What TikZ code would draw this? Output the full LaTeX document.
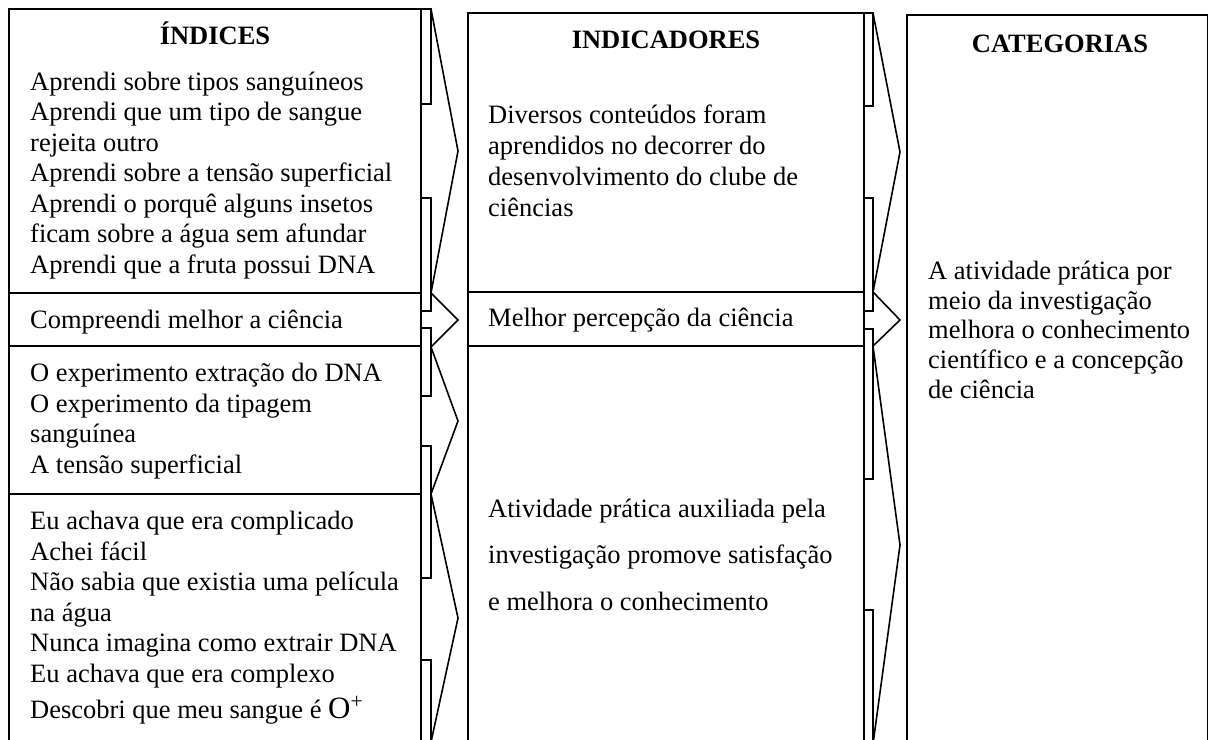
\documentclass[tikz,border=0pt]{standalone}
\usepackage{fontspec}
\setmainfont{Liberation Serif}

\begin{document}
\begin{tikzpicture}[x=1pt,y=-1pt]
            \tikzset{box/.style = {line width=1.9pt}}
            \tikzset{bar/.style = {line width=1.5pt, fill=white}}
            \tikzset{chev/.style = {line width=1.6pt, line join=miter}}
            \tikzset{txt/.style = {anchor=base west, inner sep=0pt, align=left, font=\fontsize{26.5}{30.5}\selectfont}}
            \tikzset{head/.style = {anchor=base, inner sep=0pt, font=\fontsize{26.5}{30.5}\selectfont\bfseries}}

            \useasboundingbox (0,0) rectangle (1209,739);
            \clip (0,0) rectangle (1209,739);

            % columns
            \draw[box] (9,760) -- (9,9) -- (421,9) -- (421,760);
            \foreach \y in {293,346,494} {\draw[box] (9,\y) -- (421,\y);}
            \draw[box] (468,760) -- (468,13) -- (864,13) -- (864,760);
            \foreach \y in {292,346} {\draw[box] (468,\y) -- (864,\y);}
            \draw[box] (907,760) -- (907,15) -- (1207.5,15) -- (1207.5,760);

            % arrows between columns
            \foreach \a/\b in {9/104,198/311,328/396,446/578,660/760} {\draw[bar] (421,\a) rectangle (431,\b);}
            \foreach \a/\t/\b in {9/151/293,293/320/347,347/421/494,494/618/742} {\draw[chev] (431,\a) -- (458,\t) -- (431,\b);}
            \foreach \a/\b in {13/106,198/311,329/479,610/760} {\draw[bar] (864,\a) rectangle (873,\b);}
            \foreach \a/\t/\b in {13/152/292,292/320/346,346/545/744} {\draw[chev] (873,\a) -- (900,\t) -- (873,\b);}

            % headings
            \node[head] (indices) at (215,44) {ÍNDICES};
            \node[head] (indicadores) at (666,48) {INDICADORES};
            \node[head] (categorias) at (1060,52) {CATEGORIAS};

            % indices (base = last line)
            \node[txt] (aprendi) at (30,273) {Aprendi sobre tipos sanguíneos\\Aprendi que um tipo de sangue\\rejeita outro\\Aprendi sobre a tensão superficial\\Aprendi o porquê alguns insetos\\ficam sobre a água sem afundar\\Aprendi que a fruta possui DNA};
            \node[txt] (compreendi) at (30,328) {Compreendi melhor a ciência};
            \node[txt] (experimento) at (30,473) {O experimento extração do DNA\\O experimento da tipagem\\sanguínea\\A tensão superficial};
            \node[txt] (achava) at (30,718) {Eu achava que era complicado\\Achei fácil\\Não sabia que existia uma película\\na água\\Nunca imagina como extrair DNA\\Eu achava que era complexo\\[5.5pt]Descobri que meu sangue é {\fontsize{31}{36}\selectfont O\textsuperscript{+}}};

            % indicadores
            \node[txt, font=\fontsize{26.5}{30.8}\selectfont] (diversos) at (488,216) {Diversos conteúdos foram\\aprendidos no decorrer do\\desenvolvimento do clube de\\ciências};
            \node[txt] (melhor) at (488,326) {Melhor percepção da ciência};
            \node[txt, font=\fontsize{26.5}{46.5}\selectfont] (atividade) at (488,610) {Atividade prática auxiliada pela\\investigação promove satisfação\\e melhora o conhecimento};

            % categorias
            \node[txt, font=\fontsize{26.5}{29.6}\selectfont] (pratica) at (928,398) {A atividade prática por\\meio da investigação\\melhora o conhecimento\\científico e a concepção\\de ciência};

          \end{tikzpicture}
\end{document}
